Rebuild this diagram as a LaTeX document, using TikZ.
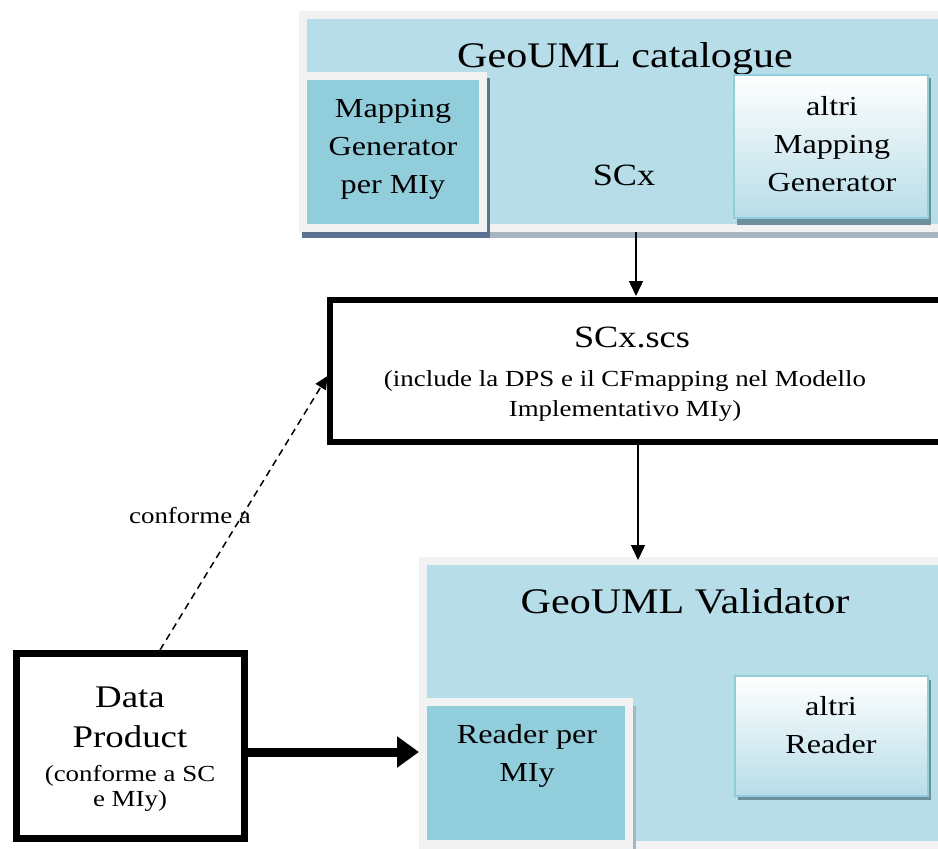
\documentclass[tikz,border=0pt]{standalone}
\usepackage{fontspec}
\setmainfont{Liberation Serif}[FakeStretch=1.17]
\usetikzlibrary{arrows.meta}
\definecolor{cblue}{HTML}{B7DDE8}
\definecolor{cmid}{HTML}{92CDDC}
\definecolor{cframe}{HTML}{F2F2F2}
\definecolor{shdark}{HTML}{5C7290}
\definecolor{shlight}{HTML}{A6B5C0}
\definecolor{shteal}{HTML}{6E909C}
\tikzset{
  framebox/.style={fill=cframe, draw=none, inner sep=0pt, outer sep=0pt, anchor=north west},
  bluebox/.style={fill=cblue, draw=none, inner sep=0pt, outer sep=0pt, anchor=north west},
  midbox/.style={fill=cmid, draw=none, inner sep=0pt, outer sep=0pt, anchor=north west},
  altbox/.style={top color=white, bottom color=cblue, draw=cmid, line width=2.5pt, inner sep=0pt, outer sep=0pt, anchor=north west},
  thickbox/.style={fill=white, draw=black, line width=6pt, inner sep=0pt, outer sep=0pt, anchor=north west},
  titletext/.style={font=\fontsize{36}{40}\selectfont, inner sep=0pt},
  boxtext/.style={font=\fontsize{27.5}{38}\selectfont, align=center, inner sep=0pt},
  midtext/.style={font=\fontsize{31}{36}\selectfont, inner sep=0pt},
  smalltext/.style={font=\fontsize{23}{30}\selectfont, align=center, inner sep=0pt},
  dpname/.style={font=\fontsize{31.5}{40}\selectfont, align=center, inner sep=0pt},
  dpnote/.style={font=\fontsize{23}{25}\selectfont, align=center, inner sep=0pt},
  thinarr/.style={line width=1.5pt, -{Triangle[width=14pt,length=15pt]}},
  dasharr/.style={line width=1.5pt, dash pattern=on 7pt off 5pt, -{Triangle[width=12pt,length=13pt]}},
  bigarr/.style={line width=9pt, -{Triangle[width=30pt,length=22pt]}}
}
\begin{document}
\begin{tikzpicture}[x=1pt,y=-1pt]
\useasboundingbox (0,0) rectangle (938,849);
\clip (0,0) rectangle (938,849);
\fill[white] (0,0) rectangle (938,849);

% ---------- GeoUML catalogue ----------
\node[framebox, minimum width=661pt, minimum height=221pt] (cat) at (299,11) {};
\node[bluebox, minimum width=653pt, minimum height=205pt] (catin) at (307,19) {};
\fill[shlight] (302,232) rectangle (960,238);
\fill[shdark] (302,232) rectangle (490,238);
\node[framebox, minimum width=188pt, minimum height=160pt] (mgframe) at (299,72) {};
\fill[shdark] (487,78) rectangle (490,238);
\node[midbox, minimum width=172pt, minimum height=144pt] (mg) at (307,80) {};
\node[boxtext] (mgtext) at (393,149.6) {Mapping\\Generator\\per MIy};
\node[titletext, anchor=base] (cattitle) at (625,67) {GeoUML catalogue};
\node[midtext, anchor=base] (scx) at (624,185) {SCx};
\fill[shteal] (737,78) rectangle (931,225);
\node[altbox, minimum width=194pt, minimum height=143pt] (altmg) at (734,75) {};
\node[boxtext] (altmgtext) at (832,143.6) {altri\\Mapping\\Generator};

% ---------- SCx.scs ----------
\node[thickbox, minimum width=640pt, minimum height=141.5pt] (scs) at (329.5,300) {};
\node[midtext, anchor=base] (scsname) at (632,347) {SCx.scs};
\node[smalltext] (scsnote) at (625,396) {(include la DPS e il CFmapping nel Modello\\Implementativo MIy)};

% ---------- GeoUML Validator ----------
\node[framebox, minimum width=541pt, minimum height=300pt] (val) at (419,557) {};
\node[bluebox, minimum width=533pt, minimum height=276pt] (valin) at (427,565) {};
\node[titletext, anchor=base] (valtitle) at (685,613) {GeoUML Validator};
\node[framebox, minimum width=214pt, minimum height=160pt] (rdframe) at (419,698) {};
\fill[shlight] (633,706) rectangle (636,849);
\node[midbox, minimum width=198pt, minimum height=134pt] (rd) at (427,706) {};
\node[boxtext] (rdtext) at (527,755.6) {Reader per\\MIy};
\fill[shteal] (738,680) rectangle (931,800);
\node[altbox, minimum width=193pt, minimum height=120pt] (altrd) at (735,676) {};
\node[boxtext] (altrdtext) at (831,724.6) {altri\\Reader};

% ---------- Data Product ----------
\node[thickbox, line width=7pt, minimum width=228pt, minimum height=185pt] (dp) at (16,653.5) {};
\node[dpname] (dpnametext) at (130,717.5) {Data\\Product};
\node[dpnote] (dpnotetext) at (130,788.6) {(conforme a SC\\e MIy)};

% ---------- connectors ----------
\coordinate (x1) at (636,0);
\coordinate (x2) at (638,0);
\coordinate (dstart) at (160,0);
\coordinate (dtip) at (0,376);
\coordinate (ty) at (0,752);
\draw[thinarr] (cat.south -| x1) -- ([yshift=4pt]scs.north -| x1);
\draw[thinarr] ([yshift=-3pt]scs.south -| x2) -- ([yshift=-3pt]val.north -| x2);
\draw[dasharr] ([yshift=3.5pt]dp.north -| dstart) -- ([xshift=-2pt]scs.west |- dtip);
\draw[bigarr] ([xshift=3.5pt]dp.east |- ty) -- (val.west |- ty);
\node[smalltext, anchor=base] (conf) at (190,523) {conforme a};
\end{tikzpicture}
\end{document}
